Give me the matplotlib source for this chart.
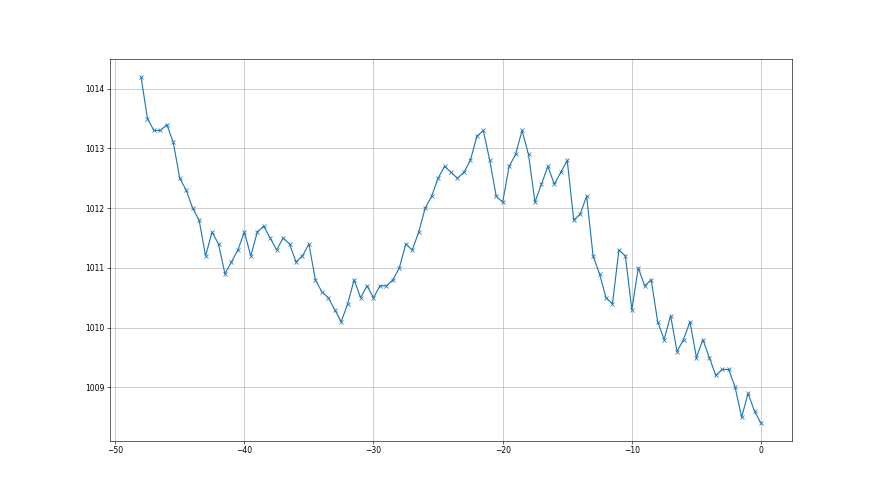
import matplotlib
matplotlib.use("Agg")
import matplotlib.pyplot as plt
import numpy as np

hours = np.arange(-48, 0.01, 0.5)
pressure = [
    1014.2, 1013.5, 1013.3, 1013.3, 1013.4, 1013.1, 1012.5, 1012.3, 1012.0, 1011.8,
    1011.2, 1011.6, 1011.4, 1010.9, 1011.1, 1011.3, 1011.6, 1011.2, 1011.6, 1011.7,
    1011.5, 1011.3, 1011.5, 1011.4, 1011.1, 1011.2, 1011.4, 1010.8, 1010.6, 1010.5,
    1010.3, 1010.1, 1010.4, 1010.8, 1010.5, 1010.7, 1010.5, 1010.7, 1010.7, 1010.8,
    1011.0, 1011.4, 1011.3, 1011.6, 1012.0, 1012.2, 1012.5, 1012.7, 1012.6, 1012.5,
    1012.6, 1012.8, 1013.2, 1013.3, 1012.8, 1012.2, 1012.1, 1012.7, 1012.9, 1013.3,
    1012.9, 1012.1, 1012.4, 1012.7, 1012.4, 1012.6, 1012.8, 1011.8, 1011.9, 1012.2,
    1011.2, 1010.9, 1010.5, 1010.4, 1011.3, 1011.2, 1010.3, 1011.0, 1010.7, 1010.8,
    1010.1, 1009.8, 1010.2, 1009.6, 1009.8, 1010.1, 1009.5, 1009.8, 1009.5, 1009.2,
    1009.3, 1009.3, 1009.0, 1008.5, 1008.9, 1008.6, 1008.4,
]

fig, ax = plt.subplots(figsize=(16, 9), dpi=55)
ax.plot(hours, pressure, marker="x", color="C0")
ax.grid(True)
ax.ticklabel_format(useOffset=False, axis="y")
fig.savefig("out.png", dpi=55)
